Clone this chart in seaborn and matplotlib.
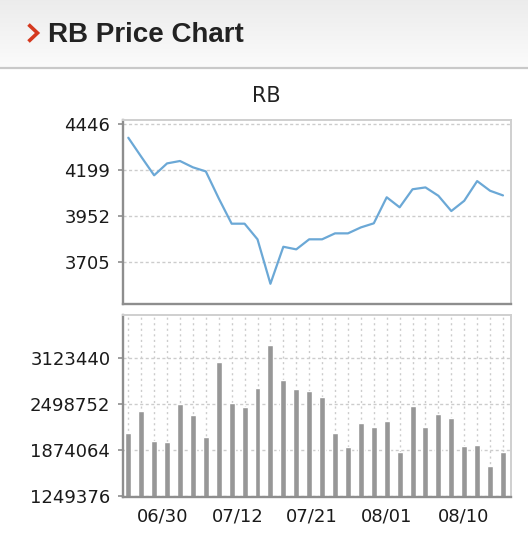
import numpy as np
import pandas as pd
import matplotlib
matplotlib.use("Agg")
import matplotlib.pyplot as plt
import seaborn as sns
from matplotlib.lines import Line2D

# ---------------- data ----------------
price = [4372, 4270, 4170, 4234, 4247, 4213, 4191, 4046, 3910, 3910,
         3826, 3587, 3786, 3772, 3826, 3826, 3858, 3858, 3890, 3912,
         4052, 3998, 4095, 4105, 4060, 3978, 4033, 4139, 4087, 4062]
volume = [2104900, 2399600, 1992200, 1974600, 2490600, 2345300, 2046500, 3061000, 2512300, 2458000,
          2707900, 3300000, 2824700, 2702500, 2667200, 2585700, 2104900, 1914800, 2232600, 2186400,
          2259800, 1838800, 2463500, 2186400, 2354800, 2300500, 1924300, 1942000, 1648700, 1842800]
price_ticks = [3705, 3952, 4199, 4446]
volume_ticks = [1249376, 1874064, 2498752, 3123440]
date_labels = ["06/30", "07/12", "07/21", "08/01", "08/10"]
header_title = "RB Price Chart"
chart_title = "RB"

# ---------------- layout / style ----------------
date_tick_pos = [2.69, 8.49, 14.22, 20.02, 25.98]
W, H = 528, 556
sns.set_style("white")
plt.rcParams["font.family"] = ["DejaVu Sans"]

fig = plt.figure(figsize=(W / 100, H / 100), dpi=100)
fig.patch.set_facecolor("white")

def fx(px):
    return px / W

def fy(py):
    return 1 - py / H

# header gradient
hdr = fig.add_axes([0, fy(67), 1, 67 / H], zorder=0)
grad = np.linspace(0.925, 0.985, 100).reshape(-1, 1)
hdr.imshow(np.dstack([grad, grad, grad]), aspect="auto", extent=[0, 1, 0, 1], origin="upper")
hdr.set_axis_off()
fig.add_artist(Line2D([0, 1], [fy(67.5), fy(67.5)], color="#c9c9c9", lw=1.6))
# chevron
fig.add_artist(Line2D([fx(28.5), fx(37.5), fx(28.5)], [fy(24.5), fy(33), fy(41.5)],
                      color="#d5391f", lw=2.6, solid_capstyle="butt", solid_joinstyle="miter"))
fig.text(fx(47.5), fy(42.5), header_title, family=["Liberation Sans", "DejaVu Sans"],
         fontweight="bold", fontsize=20, color="#222222", ha="left", va="baseline")
fig.text(fx(266.5), fy(102.5), chart_title, fontsize=15, color="#222222", ha="center", va="baseline")

idx = list(range(len(price)))
df = pd.DataFrame({"idx": idx, "price": price, "volume": volume})

ax1 = fig.add_axes([fx(123), fy(303.5), fx(511) - fx(123), (303.5 - 119.5) / H])
ax2 = fig.add_axes([fx(123), fy(497), fx(511) - fx(123), (497 - 315) / H])

sns.lineplot(data=df, x="idx", y="price", ax=ax1, color="#6ba8d6", linewidth=1.6)
sns.barplot(data=df, x="idx", y="volume", ax=ax2, color="#979797", width=0.46,
            saturation=1, errorbar=None)

xl = (-0.41, 29.62)
for ax in (ax1, ax2):
    ax.set_xlim(*xl)
    ax.set_xlabel("")
    ax.set_ylabel("")
    ax.set_facecolor("white")
    for s in ("left", "bottom"):
        ax.spines[s].set_color("#8e8e8e")
        ax.spines[s].set_linewidth(1.7)
    for s in ("top", "right"):
        ax.spines[s].set_color("#cfcfcf")
        ax.spines[s].set_linewidth(1.4)
    ax.tick_params(axis="y", which="major", left=True, length=3.6, width=1.2, color="#8e8e8e",
                   pad=5.5, labelsize=13, labelcolor="#1a1a1a")
    ax.set_axisbelow(True)

ax1.set_ylim(3481, 4470)
ax1.set_yticks(price_ticks)
ax1.set_yticklabels([str(v) for v in price_ticks])
ax1.set_xticks([])
ax1.yaxis.grid(True, color="#cccccc", linestyle=(0, (2.2, 1.8)), linewidth=1.0)

ax2.set_ylim(1231700, 3703300)
ax2.set_yticks(volume_ticks)
ax2.set_yticklabels([str(v) for v in volume_ticks])
ax2.set_xticks(date_tick_pos)
ax2.set_xticklabels(date_labels)
ax2.set_xticks(idx, minor=True)
ax2.tick_params(axis="x", which="major", bottom=True, length=0, width=0,
                pad=7.5, labelsize=13, labelcolor="#1a1a1a")
ax2.tick_params(axis="x", which="minor", bottom=False, length=0)
ax2.yaxis.grid(True, color="#cccccc", linestyle=(0, (2.2, 1.8)), linewidth=1.0)
ax2.xaxis.grid(True, which="minor", color="#cccccc", linestyle=(0, (1.5, 2.5)), linewidth=1.0)
ax2.xaxis.grid(False, which="major")

fig.savefig("out.png", dpi=100, facecolor="white")
